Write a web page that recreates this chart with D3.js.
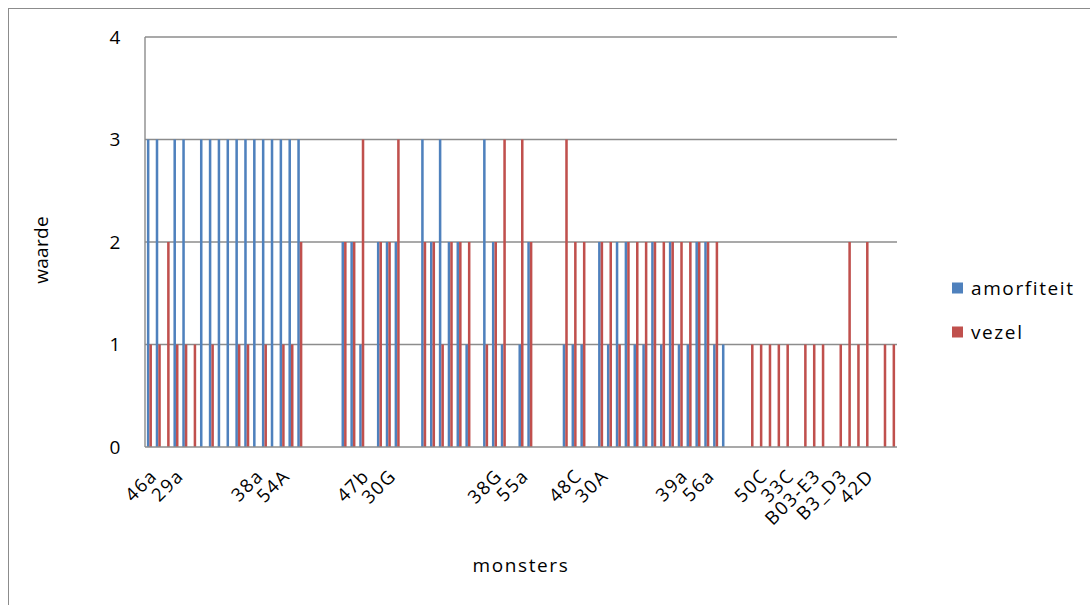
<!DOCTYPE html>
<html>
<head>
<meta charset="utf-8">
<script src="https://cdn.jsdelivr.net/npm/d3@7"></script>
<style>
  html, body { margin: 0; padding: 0; background: #fff; }
  svg { display: block; }
  text { font-family: "Open Sans", "Liberation Sans", sans-serif; fill: #000; letter-spacing: 1.6px; }
</style>
</head>
<body>
<svg id="chart" width="1090" height="605"></svg>
<script>
// Scores per sample (85 samples, in sheet order)
const amorfiteit = [
  3, 3, 0, 3, 3, 0, 3, 3, 3, 3,
  3, 3, 3, 3, 3, 3, 3, 3, 0, 0,
  0, 0, 2, 2, 1, 0, 2, 2, 2, 0,
  0, 3, 2, 3, 2, 2, 1, 0, 3, 2,
  1, 0, 1, 2, 0, 0, 0, 1, 1, 1,
  0, 2, 1, 2, 2, 1, 1, 2, 1, 2,
  1, 1, 2, 2, 1, 1, 0, 0, 0, 0,
  0, 0, 0, 0, 0, 0, 0, 0, 0, 0,
  0, 0, 0, 0, 0
];
const vezel = [
  1, 1, 2, 1, 1, 1, 0, 1, 0, 0,
  1, 1, 0, 1, 0, 1, 1, 2, 0, 0,
  0, 0, 2, 2, 3, 0, 2, 2, 3, 0,
  0, 2, 2, 1, 2, 2, 2, 0, 1, 2,
  3, 0, 3, 2, 0, 0, 0, 3, 2, 2,
  0, 2, 2, 1, 2, 2, 2, 2, 2, 2,
  2, 2, 2, 2, 2, 0, 0, 0, 1, 1,
  1, 1, 1, 0, 1, 1, 1, 0, 1, 2,
  1, 2, 0, 1, 1
];
// Category labels shown on every third sample
const tickLabels = [
  "46a", "29a", "", "", "38a", "54A", "", "", "47b", "30G",
  "", "", "", "38G", "55a", "", "48C", "30A", "", "",
  "39a", "56a", "", "50C", "33C", "B03-E3", "B3_D3", "42D", ""
];
const labelStep = 3;
const yTicks = [0, 1, 2, 3, 4];
const seriesNames = ["amorfiteit", "vezel"];
const seriesColors = ["#4F81BD", "#C0504D"];

const svg = d3.select("#chart");

// outer chart frame
svg.append("rect")
  .attr("x", 8.5).attr("y", 8.5)
  .attr("width", 1200).attr("height", 800)
  .attr("fill", "none").attr("stroke", "#8c8c8c").attr("stroke-width", 1);

const plot = { left: 145, right: 897, top: 37, bottom: 447 };
const n = amorfiteit.length;

const x = d3.scaleBand()
  .domain(d3.range(n))
  .range([plot.left, plot.right])
  .paddingInner(0).paddingOuter(0);

const y = d3.scaleLinear().domain([0, 4]).range([plot.bottom, plot.top]);

// gap width 150%: two bars + 1.5 bar gap per category
const barW = x.bandwidth() / 3.5;
const sub = d3.scaleBand().domain([0, 1])
  .range([0.75 * barW, 2.75 * barW]);

// gridlines
svg.append("g")
  .selectAll("line")
  .data(yTicks.filter(d => d > 0))
  .join("line")
  .attr("x1", plot.left).attr("x2", plot.right)
  .attr("y1", d => y(d)).attr("y2", d => y(d))
  .attr("stroke", "#8c8c8c").attr("stroke-width", 1.4);

// bars
const series = [amorfiteit, vezel];
series.forEach((vals, s) => {
  svg.append("g")
    .selectAll("rect")
    .data(vals.map((v, i) => ({ i, v })).filter(d => d.v > 0))
    .join("rect")
    .attr("x", d => x(d.i) + sub(s))
    .attr("width", sub.bandwidth())
    .attr("y", d => y(d.v))
    .attr("height", d => y(0) - y(d.v))
    .attr("fill", seriesColors[s]);
});

// axes lines
svg.append("line")
  .attr("x1", plot.left).attr("x2", plot.left)
  .attr("y1", plot.top).attr("y2", plot.bottom)
  .attr("stroke", "#8c8c8c").attr("stroke-width", 1.4);
svg.append("line")
  .attr("x1", plot.left).attr("x2", plot.right)
  .attr("y1", plot.bottom).attr("y2", plot.bottom)
  .attr("stroke", "#8c8c8c").attr("stroke-width", 1.6);

// y tick labels
svg.append("g")
  .selectAll("text")
  .data(yTicks)
  .join("text")
  .attr("x", 122)
  .attr("y", d => y(d))
  .attr("dy", "0.35em")
  .attr("text-anchor", "end")
  .style("font-size", "19px")
  .text(d => d);

// x tick labels, rotated
svg.append("g")
  .selectAll("text")
  .data(tickLabels)
  .join("text")
  .attr("text-anchor", "end")
  .style("font-size", "18.5px")
  .attr("transform", (d, j) => {
    const cx = x(j * labelStep) + x.bandwidth() / 2;
    return `translate(${cx + 9},${plot.bottom + 30}) rotate(-45)`;
  })
  .text(d => d);

// axis titles
svg.append("text")
  .attr("transform", "translate(48,250) rotate(-90)")
  .attr("text-anchor", "middle")
  .style("font-size", "19px")
  .style("letter-spacing", "0.3px")
  .text("waarde");

svg.append("text")
  .attr("x", 521).attr("y", 572)
  .attr("text-anchor", "middle")
  .style("font-size", "19px")
  .text("monsters");

// legend
const legend = svg.append("g");
seriesNames.forEach((name, s) => {
  const ly = 288 + s * 44;
  legend.append("rect")
    .attr("x", 952).attr("y", ly - 5.5)
    .attr("width", 11).attr("height", 11)
    .attr("fill", seriesColors[s]);
  legend.append("text")
    .attr("x", 971).attr("y", ly)
    .attr("dy", "0.35em")
    .style("font-size", "19px")
    .text(name);
});
</script>
</body>
</html>
